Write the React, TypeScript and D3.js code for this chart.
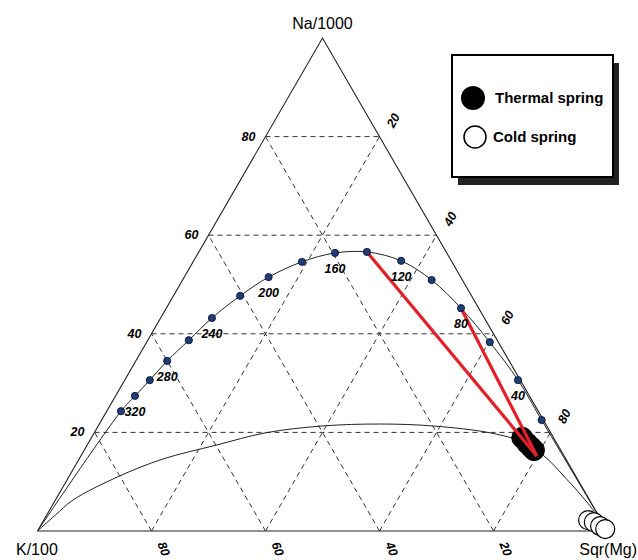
import React from 'react'
import * as d3 from 'd3'

// ternary values in percent, [Na/1000, Sqr(Mg)]; K/100 is the remainder
const gridValues = [20, 40, 60, 80]

// full equilibrium line, one point every 20 °C
const eqTemps = [340, 320, 300, 280, 260, 240, 220, 200, 180, 160, 140, 120, 100, 80, 60, 40, 20]
const eqNa = [24.3, 27.4, 30.6, 34.5, 38.7, 43.2, 47.7, 51.5, 54.6, 56.4, 56.6, 54.8, 50.9, 45.2, 38.3, 30.6, 22.5]
const eqMg = [2.5, 3.4, 4.4, 5.5, 7.2, 9.0, 11.7, 14.8, 19.1, 24.0, 29.5, 36.4, 43.7, 51.7, 60.2, 69.0, 77.2]
const labelledTemps = [320, 280, 240, 200, 160, 120, 80, 40]

// immature waters boundary
const immNa = [0, 3.2, 6.3, 11.0, 14.6, 17.4, 19.9, 21.3, 21.7, 21.3, 19.9, 18.1, 15.4, 10.5, 5.5, 0]
const immMg = [0, 1.5, 3.1, 8.6, 14.7, 22.6, 30.0, 39.3, 49.3, 58.8, 69.5, 76.0, 81.0, 87.6, 93.9, 100]

// samples
const thermalNa = [18.9, 17.8, 17.0, 16.4]
const thermalMg = [75.6, 77.0, 78.1, 78.9]
const coldNa = [2.2, 1.8, 1.0, 0.4]
const coldMg = [95.5, 96.7, 98.2, 99.4]

// red lines from the sample group to the curve
const tieNa = 15.2
const tieMg = 80.0
const tieTemps = [140, 80]

const font = 'Arial, "Liberation Sans", sans-serif'

const App = () => {
  const width = 638
  const height = 560

  const xScale = d3.scaleLinear().domain([0, 100]).range([37.5, 607.5])
  const yScale = d3.scaleLinear().domain([0, 100]).range([531, 38])

  const px = (na: number, mg: number) => xScale(mg + na / 2)
  const py = (na: number) => yScale(na)

  const lineGen = d3.line<[number, number]>()
    .x(d => px(d[0], d[1]))
    .y(d => py(d[0]))

  const smoothGen = d3.line<[number, number]>()
    .x(d => px(d[0], d[1]))
    .y(d => py(d[0]))
    .curve(d3.curveCatmullRom.alpha(0.5))

  const eqPoints: [number, number][] = [[0, 0]]
  eqNa.forEach((na, i) => eqPoints.push([na, eqMg[i]]))
  eqPoints.push([0, 100])

  const immPoints: [number, number][] = immNa.map((na, i) => [na, immMg[i]])

  const triangle = lineGen([[0, 0], [100, 0], [0, 100], [0, 0]])

  const gridLines: [number, number][][] = []
  gridValues.forEach(v => {
    gridLines.push([[v, 0], [v, 100 - v]]) // Na constant
    gridLines.push([[0, v], [100 - v, v]]) // Mg constant
    gridLines.push([[0, 100 - v], [100 - v, 0]]) // K constant
  })

  const tickStyle = { fontFamily: font, fontSize: 12.5, fontWeight: 'bold', fontStyle: 'italic' } as const

  return (
    <svg width={width} height={height} style={{ position: 'absolute', left: 0, top: 0, background: '#fff' }}>
      {/* grid */}
      {gridLines.map((l, i) => (
        <path key={'g' + i} d={lineGen(l) || ''} fill="none" stroke="#333" strokeWidth={1} strokeDasharray="5,4" />
      ))}
      <path d={triangle || ''} fill="none" stroke="#222" strokeWidth={1.1} />

      {/* curves */}
      <path d={smoothGen(immPoints) || ''} fill="none" stroke="#222" strokeWidth={1} />
      <path d={smoothGen(eqPoints) || ''} fill="none" stroke="#222" strokeWidth={1} />

      {/* axis labels */}
      {gridValues.map(v => (
        <text key={'na' + v} x={px(v, 0) - 10} y={py(v) + 4} textAnchor="end" style={tickStyle}>{v}</text>
      ))}
      {gridValues.map(v => {
        const x = px(100 - v, v) + 14
        const y = py(100 - v) - 16
        return (
          <text key={'mg' + v} transform={`translate(${x},${y}) rotate(-62)`} textAnchor="middle" dy="4" style={tickStyle}>{v}</text>
        )
      })}
      {gridValues.map(v => {
        const x = px(0, 100 - v) + 12
        const y = py(0) + 18
        return (
          <text key={'k' + v} transform={`translate(${x},${y}) rotate(68)`} textAnchor="middle" dy="4" style={tickStyle}>{v}</text>
        )
      })}

      <text x={px(100, 0)} y={29} textAnchor="middle" style={{ fontFamily: font, fontSize: 16 }}>Na/1000</text>
      <text x={16} y={555} style={{ fontFamily: font, fontSize: 16 }}>K/100</text>
      <text x={637} y={555} textAnchor="end" style={{ fontFamily: font, fontSize: 16 }}>Sqr(Mg)</text>

      {/* thermal springs */}
      {thermalNa.map((na, i) => (
        <circle key={'t' + i} cx={px(na, thermalMg[i])} cy={py(na)} r={10.5} fill="#000" stroke="#000" />
      ))}

      {/* red lines */}
      {tieTemps.map(t => {
        const i = eqTemps.indexOf(t)
        return (
          <path key={'r' + t} d={lineGen([[tieNa, tieMg], [eqNa[i], eqMg[i]]]) || ''} stroke="#e3202a" strokeWidth={3.2} fill="none" />
        )
      })}

      {/* temperature points */}
      {eqNa.map((na, i) => (
        <circle key={'d' + i} cx={px(na, eqMg[i])} cy={py(na)} r={3.6} fill="#1d3d7c" stroke="#0a0a1a" strokeWidth={0.8} />
      ))}
      {labelledTemps.map(t => {
        const i = eqTemps.indexOf(t)
        return (
          <text key={'tl' + t} x={px(eqNa[i], eqMg[i])} y={py(eqNa[i]) + 20} textAnchor="middle" style={tickStyle}>{t}</text>
        )
      })}

      {/* cold springs */}
      {coldNa.map((na, i) => (
        <circle key={'c' + i} cx={px(na, coldMg[i])} cy={py(na)} r={9.5} fill="#fff" stroke="#000" strokeWidth={1.2} />
      ))}

      {/* legend */}
      <rect x={458} y={63} width={161} height={122} fill="#222" />
      <rect x={452} y={55} width={161} height={122} fill="#fff" stroke="#000" strokeWidth={2} />
      <circle cx={473} cy={98} r={12} fill="#000" />
      <text x={495} y={103} style={{ fontFamily: font, fontSize: 15, fontWeight: 'bold' }}>Thermal spring</text>
      <circle cx={475} cy={137} r={11} fill="#fff" stroke="#000" strokeWidth={1.5} />
      <text x={493} y={142} style={{ fontFamily: font, fontSize: 15, fontWeight: 'bold' }}>Cold spring</text>
    </svg>
  )
}

export default App
